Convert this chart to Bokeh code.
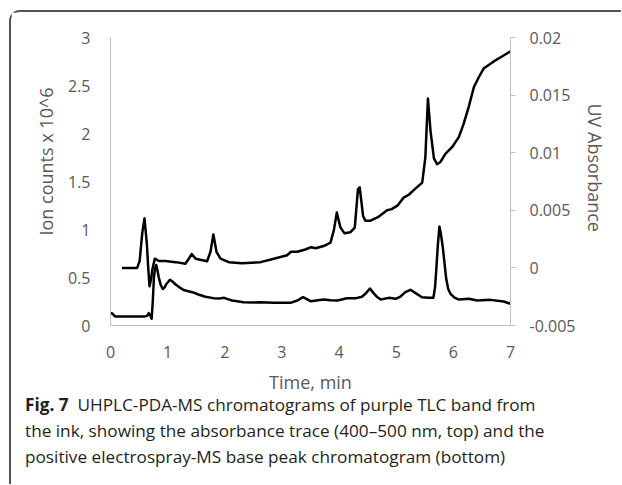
import math
from bokeh.plotting import figure
from bokeh.models import Range1d, LinearAxis, FixedTicker, Div, Title
from bokeh.layouts import column
from bokeh.embed import file_html
from bokeh.resources import INLINE

# ---- data ----
ms_time = [0.00, 0.03, 0.08, 0.2, 0.4, 0.6, 0.64, 0.67, 0.70, 0.72, 0.74, 0.76, 0.78, 0.80,
           0.82, 0.845, 0.88, 0.915, 0.95, 0.975, 1.04, 1.10, 1.14, 1.20, 1.28, 1.43, 1.55,
           1.66, 1.80, 1.90, 1.98, 2.05, 2.13, 2.33, 2.5, 2.625, 2.86, 3.0, 3.15, 3.27, 3.37,
           3.5, 3.6, 3.73, 3.85, 3.97, 4.14, 4.30, 4.40, 4.46, 4.54, 4.60, 4.66, 4.73, 4.87,
           4.99, 5.075, 5.16, 5.25, 5.34, 5.45, 5.57, 5.65, 5.68, 5.70, 5.73, 5.757, 5.78,
           5.815, 5.845, 5.875, 5.91, 5.95, 6.02, 6.10, 6.27, 6.42, 6.65, 6.88, 7.00]
ms_counts = [0.13, 0.125, 0.095, 0.095, 0.095, 0.095, 0.10, 0.13, 0.10, 0.07, 0.25, 0.50, 0.60,
             0.63, 0.58, 0.50, 0.42, 0.38, 0.40, 0.43, 0.476, 0.45, 0.427, 0.40, 0.37, 0.347,
             0.32, 0.30, 0.285, 0.28, 0.29, 0.275, 0.26, 0.243, 0.24, 0.243, 0.236, 0.238,
             0.236, 0.26, 0.295, 0.253, 0.26, 0.27, 0.262, 0.26, 0.284, 0.285, 0.30, 0.33,
             0.385, 0.34, 0.30, 0.27, 0.288, 0.278, 0.302, 0.347, 0.372, 0.337, 0.295, 0.288,
             0.288, 0.40, 0.573, 0.85, 1.03, 0.96, 0.816, 0.65, 0.486, 0.38, 0.33, 0.29, 0.27,
             0.278, 0.26, 0.267, 0.25, 0.226]

uv_time = [0.20, 0.467, 0.51, 0.555, 0.595, 0.636, 0.66, 0.683, 0.71, 0.73, 0.775, 0.845, 0.96,
           1.14, 1.31, 1.37, 1.42, 1.49, 1.69, 1.75, 1.80, 1.855, 1.925, 2.07, 2.30, 2.625,
           2.86, 3.09, 3.16, 3.27, 3.41, 3.51, 3.59, 3.73, 3.85, 3.91, 3.96, 4.025, 4.095,
           4.20, 4.275, 4.30, 4.33, 4.36, 4.39, 4.42, 4.46, 4.55, 4.68, 4.84, 4.92, 5.02,
           5.13, 5.22, 5.34, 5.455, 5.51, 5.555, 5.60, 5.66, 5.715, 5.775, 5.86, 5.98, 6.095,
           6.18, 6.27, 6.36, 6.445, 6.53, 6.70, 6.85, 7.00]
uv_abs = [0.0, 0.0, 0.0006, 0.0030, 0.0043, 0.0021, 0.0000, -0.0016, -0.0010, -0.0002, 0.0008,
          0.0006, 0.0006, 0.0005, 0.00036, 0.0008, 0.0012, 0.0008, 0.00058, 0.0014, 0.0029,
          0.0014, 0.0008, 0.0005, 0.0004, 0.0005, 0.0008, 0.0011, 0.0014, 0.0014, 0.0016,
          0.0018, 0.0017, 0.0019, 0.0022, 0.0033, 0.0048, 0.0035, 0.0030, 0.0031, 0.0035,
          0.0050, 0.0068, 0.0070, 0.0058, 0.0045, 0.0041, 0.0041, 0.0044, 0.0050, 0.0051,
          0.0054, 0.0061, 0.00635, 0.0069, 0.0074, 0.0096, 0.0147, 0.0119, 0.0095, 0.0090,
          0.0092, 0.0099, 0.0105, 0.01135, 0.0125, 0.0140, 0.0157, 0.01655, 0.0173, 0.0179,
          0.01835, 0.0188]

x_ticks = [0, 1, 2, 3, 4, 5, 6, 7]
x_tick_labels = ["0", "1", "2", "3", "4", "5", "6", "7"]
left_ticks = [0, 0.5, 1, 1.5, 2, 2.5, 3]
left_tick_labels = ["0", "0.5", "1", "1.5", "2", "2.5", "3"]
right_ticks = [-0.005, 0, 0.005, 0.01, 0.015, 0.02]
right_tick_labels = ["-0.005", "0", "0.005", "0.01", "0.015", "0.02"]

x_title = "Time, min"
left_title = "Ion counts x 10^6"
right_title = "UV Absorbance"
caption_bold = "Fig. 7"
caption_lines = ["UHPLC-PDA-MS chromatograms of purple TLC band from",
                 "the ink, showing the absorbance trace (400\u2013500 nm, top) and the",
                 "positive electrospray-MS base peak chromatogram (bottom)"]

# ---- figure ----
FONT = "Open Sans"
GREY = "#595959"
AXIS = "#bfbfbf"

p = figure(width=610, height=387, output_backend="svg", toolbar_location=None,
           x_range=Range1d(0, 7), y_range=Range1d(0, 3),
           min_border_left=99, min_border_right=111, min_border_top=25,
           min_border_bottom=74)
p.extra_y_ranges = {"uv": Range1d(-0.005, 0.02)}
p.outline_line_color = None
p.xgrid.visible = False
p.ygrid.visible = False
p.background_fill_color = "white"
p.border_fill_color = "white"

def style_axis(ax, ticks, labels, tick_out, standoff):
    ax.ticker = FixedTicker(ticks=ticks)
    ax.major_label_overrides = {t: l for t, l in zip(ticks, labels)}
    ax.axis_line_color = AXIS
    ax.axis_line_width = 1
    ax.major_tick_line_color = AXIS
    ax.major_tick_in = 0
    ax.major_tick_out = tick_out
    ax.minor_tick_line_color = None
    ax.major_label_text_font = FONT
    ax.major_label_text_font_size = "16px"
    ax.major_label_text_color = GREY
    ax.major_label_standoff = standoff

xa = p.xaxis[0]
style_axis(xa, x_ticks, x_tick_labels, 0, 20)
xa.axis_label = x_title
xa.axis_label_text_font = FONT
xa.axis_label_text_font_size = "18px"
xa.axis_label_text_font_style = "normal"
xa.axis_label_text_color = GREY
xa.axis_label_standoff = 9

ya = p.yaxis[0]
style_axis(ya, left_ticks, left_tick_labels, 0, 20)

ra = LinearAxis(y_range_name="uv")
style_axis(ra, right_ticks, right_tick_labels, 5, 14)
p.add_layout(ra, "right")

def side_title(text, offset, standoff):
    return Title(text=text, align="left", offset=offset, standoff=standoff,
                 text_font=FONT, text_font_size="18px", text_font_style="normal",
                 text_color=GREY)

p.add_layout(side_title(left_title, 90, 13), "left")
p.add_layout(side_title(right_title, 66, 8), "right")

p.line(ms_time, ms_counts, line_color="black", line_width=2.5, line_join="round")
p.line(uv_time, uv_abs, y_range_name="uv", line_color="black", line_width=2.5,
       line_join="round")

cap_html = ("<b>" + caption_bold + "</b>&nbsp;&nbsp;" + caption_lines[0] + "<br>"
            + caption_lines[1] + "<br>" + caption_lines[2])
cap = Div(text=cap_html, width=610, height=85, margin=0,
          styles={"font-family": "Open Sans", "font-size": "17.2px", "line-height": "26px",
                  "color": "#231f20", "padding-left": "14px", "white-space": "nowrap",
                  "box-sizing": "border-box", "position": "relative", "top": "-7px"})

layout = column(p, cap, spacing=0,
                styles={"border-top": "2px solid #555555", "border-left": "2px solid #555555",
                        "border-top-left-radius": "11px", "margin-left": "9px",
                        "margin-top": "10px", "background": "white"})

open("out.html", "w").write(file_html(layout, INLINE))
